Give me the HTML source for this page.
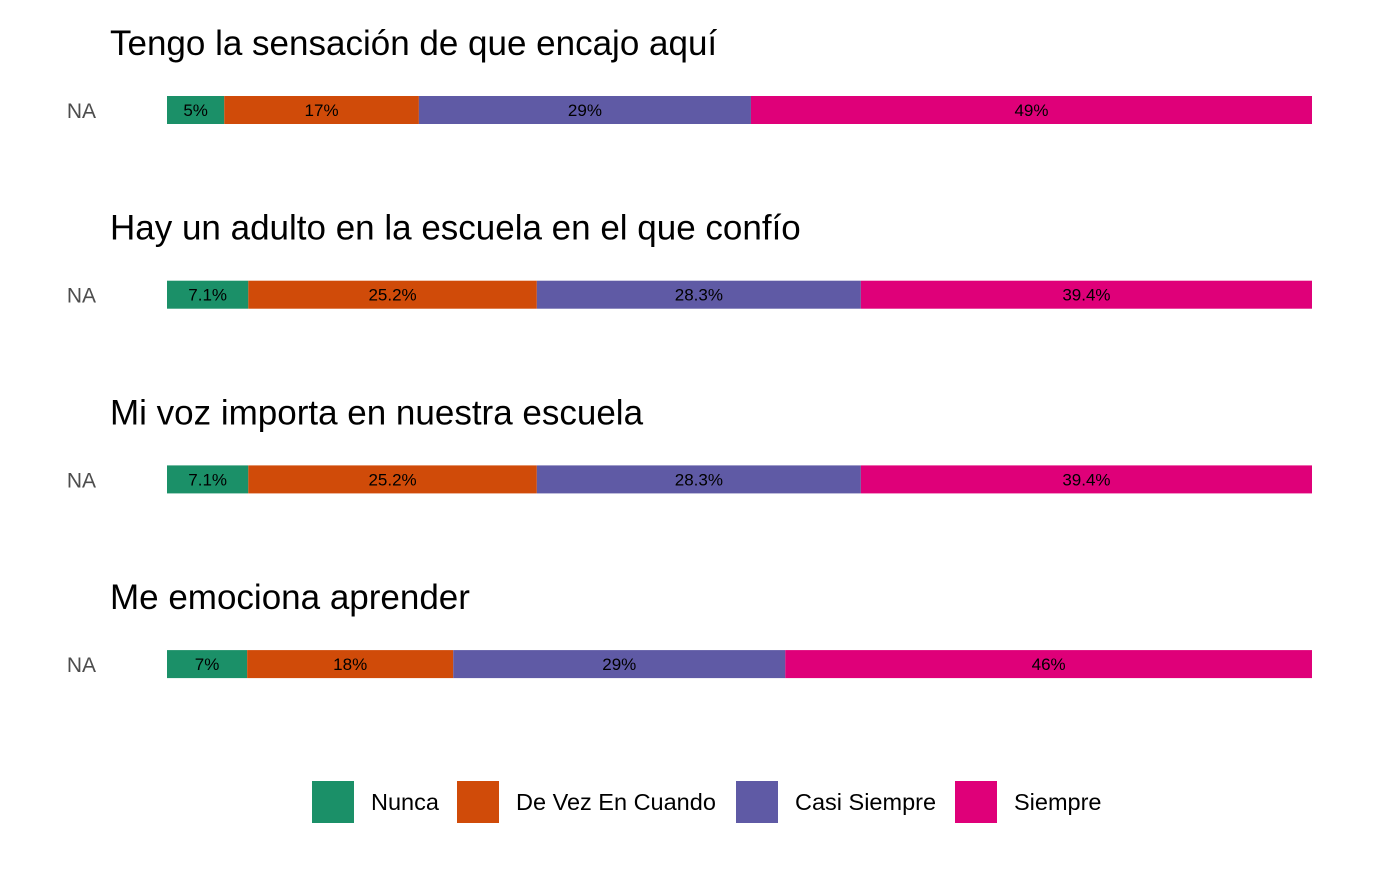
<!DOCTYPE html>
<html><head><meta charset="utf-8"><style>
body{margin:0;width:1398px;height:864px;background:#fff;font-family:"Liberation Sans",sans-serif;overflow:hidden}
svg text{font-family:"Liberation Sans",sans-serif}
</style></head><body>
<svg id="chart" width="1398" height="864"></svg>
<script>
const titles=["Tengo la sensación de que encajo aquí","Hay un adulto en la escuela en el que confío","Mi voz importa en nuestra escuela","Me emociona aprender"];
const nunca=[5,7.1,7.1,7];
const deVez=[17,25.2,25.2,18];
const casi=[29,28.3,28.3,29];
const siempre=[49,39.4,39.4,46];
const labels=[["5%","17%","29%","49%"],["7.1%","25.2%","28.3%","39.4%"],["7.1%","25.2%","28.3%","39.4%"],["7%","18%","29%","46%"]];
const cats=["Nunca","De Vez En Cuando","Casi Siempre","Siempre"];
const colors=["#1B9068","#D04B09","#5F5AA5","#DF0079"];
const NS="http://www.w3.org/2000/svg";
const svg=document.getElementById('chart');
const x0=167,x1=1312;
function xs(v){return x0+(x1-x0)*v/100;}
function mk(t,a){const e=document.createElementNS(NS,t);for(const k in a)e.setAttribute(k,a[k]);svg.appendChild(e);return e;}
const series=[nunca,deVez,casi,siempre];
titles.forEach((t,i)=>{
  const top=96+i*184.7;
  const tt=mk('text',{x:110,y:top-41,'font-size':35,fill:'#000'});tt.textContent=t;
  
  
  const na=mk('text',{x:96,y:top+22,'font-size':21,fill:'#4d4d4d','text-anchor':'end'});na.textContent="NA";
  
  
  let cum=0;
  series.forEach((s,j)=>{
    const v=s[i];
    const r=mk('rect',{x:xs(cum),y:top,width:xs(cum+v)-xs(cum),height:28,fill:colors[j]});
    
    
    const lb=mk('text',{x:(xs(cum)+xs(cum+v))/2,y:top+20,'font-size':17,fill:'#000','text-anchor':'middle'});
    lb.textContent=labels[i][j];
    
    
    cum+=v;
  });
});
const lx=[312,457,736,955];
cats.forEach((c,j)=>{
  const r=mk('rect',{x:lx[j],y:781,width:42,height:42,fill:colors[j]});
  
  
  const t=mk('text',{x:lx[j]+59,y:810,'font-size':23.5,fill:'#000'});t.textContent=c;
  
  
});
</script>
</body></html>
